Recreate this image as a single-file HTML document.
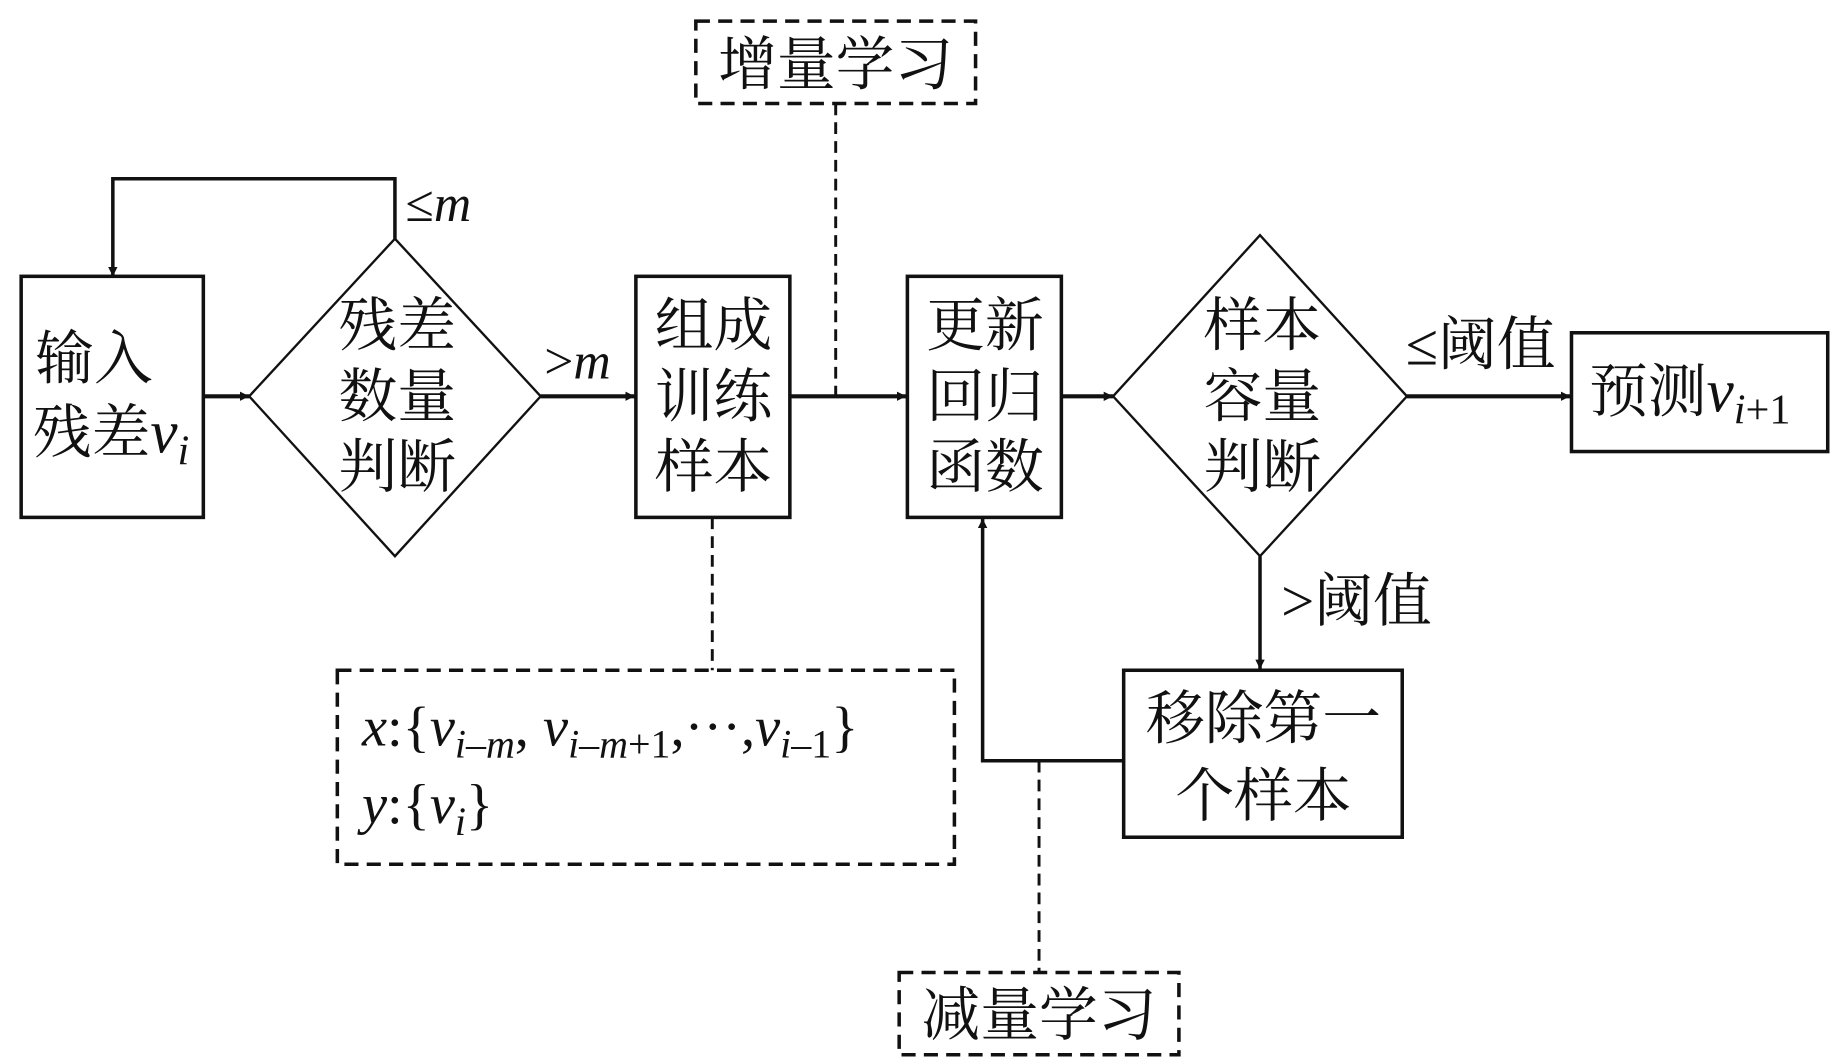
<!DOCTYPE html>
<html><head><meta charset="utf-8"><style>
html,body{margin:0;padding:0;background:#fff;}
svg{display:block;}
.cn{font-family:"Liberation Serif","Noto Serif CJK SC",serif;font-size:50px;fill:#111;}
.it{font-family:"Liberation Serif",serif;font-style:italic;fill:#111;}
.rm{font-family:"Liberation Serif",serif;fill:#111;}
</style></head><body>
<svg width="1843" height="1063" viewBox="0 0 1568 904" preserveAspectRatio="none" xmlns="http://www.w3.org/2000/svg">
<defs>
<marker id="a" viewBox="0 0 10 10" refX="10" refY="5" markerWidth="8" markerHeight="8" markerUnits="userSpaceOnUse" orient="auto"><path d="M0,0 L10,5 L0,10 z" fill="#111"/></marker>
</defs>
<g stroke="#111" fill="none">
<!-- dashed boxes -->
<rect x="592" y="18" width="238" height="70" stroke-width="3" stroke-dasharray="12,7"/>
<rect x="765" y="827" width="238" height="70" stroke-width="3" stroke-dasharray="12,7"/>
<rect x="287" y="570" width="525" height="165" stroke-width="3" stroke-dasharray="12,7"/>
<line x1="711" y1="88" x2="711" y2="336" stroke-width="2.5" stroke-dasharray="10,6"/>
<line x1="606" y1="440" x2="606" y2="570" stroke-width="2.5" stroke-dasharray="10,6"/>
<line x1="884" y1="647" x2="884" y2="827" stroke-width="2.5" stroke-dasharray="10,6"/>
<!-- boxes -->
<rect x="18" y="235" width="155" height="205" stroke-width="3"/>
<rect x="541" y="235" width="131" height="205" stroke-width="3"/>
<rect x="772" y="235" width="131" height="205" stroke-width="3"/>
<rect x="1337" y="283" width="218" height="101" stroke-width="3"/>
<rect x="956" y="570" width="237" height="142" stroke-width="3"/>
<!-- diamonds -->
<polygon points="336,203 460,337 336,473 212,337" stroke-width="2"/>
<polygon points="1072,200 1197,337 1072,473 947,337" stroke-width="2"/>
<!-- arrows -->
<polyline points="336,203 336,152 96,152 96,235" stroke-width="3" marker-end="url(#a)"/>
<line x1="173" y1="337" x2="212" y2="337" stroke-width="3.5" marker-end="url(#a)"/>
<line x1="460" y1="337" x2="540" y2="337" stroke-width="3.5" marker-end="url(#a)"/>
<line x1="672" y1="337" x2="771" y2="337" stroke-width="3.5" marker-end="url(#a)"/>
<line x1="903" y1="337" x2="947" y2="337" stroke-width="3.5" marker-end="url(#a)"/>
<line x1="1197" y1="337" x2="1336" y2="337" stroke-width="3.5" marker-end="url(#a)"/>
<line x1="1072" y1="473" x2="1072" y2="569" stroke-width="3" marker-end="url(#a)"/>
<polyline points="956,647 836,647 836,441" stroke-width="3" marker-end="url(#a)"/>
</g>
<!-- text -->
<text class="cn" x="711" y="72" text-anchor="middle">增量学习</text>
<text class="cn" x="884" y="880" text-anchor="middle">减量学习</text>
<text class="cn" x="30" y="322">输入</text>
<text class="cn" x="28" y="385">残差<tspan class="it" font-size="52">v</tspan><tspan class="it" font-size="36" dy="10">i</tspan></text>
<text class="cn" x="338" y="294" text-anchor="middle">残差</text>
<text class="cn" x="338" y="354" text-anchor="middle">数量</text>
<text class="cn" x="338" y="414" text-anchor="middle">判断</text>
<text class="cn" x="607" y="294" text-anchor="middle">组成</text>
<text class="cn" x="607" y="354" text-anchor="middle">训练</text>
<text class="cn" x="607" y="414" text-anchor="middle">样本</text>
<text class="cn" x="838" y="294" text-anchor="middle">更新</text>
<text class="cn" x="838" y="354" text-anchor="middle">回归</text>
<text class="cn" x="838" y="414" text-anchor="middle">函数</text>
<text class="cn" x="1074" y="294" text-anchor="middle">样本</text>
<text class="cn" x="1074" y="354" text-anchor="middle">容量</text>
<text class="cn" x="1074" y="414" text-anchor="middle">判断</text>
<text class="cn" x="1352" y="350">预测<tspan class="it" font-size="52">v</tspan><tspan class="rm" font-size="36" dy="10"><tspan class="it">i</tspan>+1</tspan></text>
<text class="cn" x="1075" y="628" text-anchor="middle">移除第一</text>
<text class="cn" x="1075" y="694" text-anchor="middle">个样本</text>
<text class="rm" x="345" y="188" font-size="44">≤<tspan class="it">m</tspan></text>
<text class="rm" x="463" y="322" font-size="44">&gt;<tspan class="it">m</tspan></text>
<text class="cn" x="1196" y="310">≤阈值</text>
<text class="cn" x="1090" y="528">&gt;阈值</text>
<text class="rm" x="308" y="634" font-size="48"><tspan class="it">x</tspan>:{<tspan class="it">v</tspan><tspan class="it" font-size="34" dy="10">i</tspan><tspan font-size="34">–</tspan><tspan class="it" font-size="34">m</tspan><tspan dy="-10">, </tspan><tspan class="it">v</tspan><tspan class="it" font-size="34" dy="10">i</tspan><tspan font-size="34">–</tspan><tspan class="it" font-size="34">m</tspan><tspan font-size="34">+1</tspan><tspan dy="-10">,···,</tspan><tspan class="it">v</tspan><tspan class="it" font-size="34" dy="10">i</tspan><tspan font-size="34">–1</tspan><tspan dy="-10">}</tspan></text>
<text class="rm" x="308" y="700" font-size="48"><tspan class="it">y</tspan>:{<tspan class="it">v</tspan><tspan class="it" font-size="34" dy="10">i</tspan><tspan dy="-10">}</tspan></text>
</svg>
</body></html>
